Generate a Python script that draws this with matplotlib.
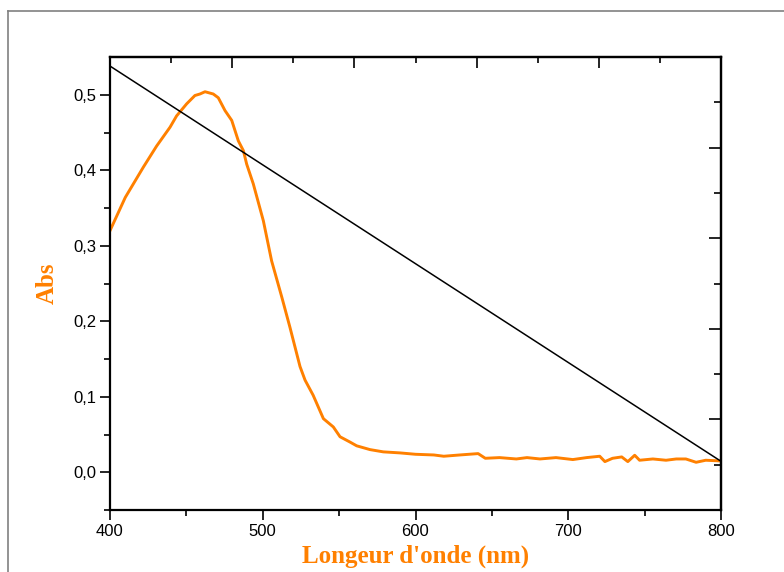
import matplotlib
matplotlib.use("Agg")
import matplotlib.pyplot as plt
from matplotlib.lines import Line2D
from matplotlib.ticker import FuncFormatter, MultipleLocator, FixedLocator
import numpy as np

# spectrum (nm, Abs)
wavelength = [400, 410, 421.8, 430.5, 439.3, 443.6, 450.2, 455.6, 458.9, 462.2,
              467.6, 470.9, 475.3, 479.7, 484, 487.3, 489.5, 493.8, 500.4, 505.8,
              512.6, 517.8, 524.4, 527.7, 533, 539.7, 546.2, 550.6, 557.1, 561.5,
              570.2, 578.9, 590, 600, 612, 618.5, 629, 641, 645.7, 655,
              666, 673, 681.5, 692, 703, 712, 720.6, 724, 729, 735,
              739, 743.5, 746.7, 755.4, 764, 770.7, 777, 783.7, 790, 800]
absorbance = [0.320, 0.364, 0.404, 0.432, 0.457, 0.472, 0.488, 0.499, 0.501, 0.504,
              0.501, 0.496, 0.479, 0.466, 0.439, 0.426, 0.408, 0.382, 0.333, 0.280,
              0.231, 0.192, 0.140, 0.122, 0.102, 0.071, 0.060, 0.047, 0.040, 0.035,
              0.030, 0.027, 0.0256, 0.0238, 0.0229, 0.0212, 0.0229, 0.0247, 0.0185, 0.0194,
              0.0176, 0.0194, 0.0176, 0.0194, 0.0168, 0.0194, 0.0212, 0.0141, 0.0185, 0.0203,
              0.0141, 0.0225, 0.0159, 0.0176, 0.0159, 0.0176, 0.0176, 0.0132, 0.0159, 0.0150]

# straight reference line
line_x = [400, 800]
line_y = [0.538, 0.0145]

orange = "#FF8000"

fig = plt.figure(figsize=(7.84, 5.72), dpi=100)
ax = fig.add_axes([110 / 784, 62 / 572, 611 / 784, 453 / 572])

ax.plot(wavelength, absorbance, color=orange, lw=2.1, solid_joinstyle="round")
ax.plot(line_x, line_y, color="black", lw=1.1)

ax.set_xlim(400, 800)
ax.set_ylim(-0.05, 0.55)

ax.xaxis.set_major_locator(MultipleLocator(100))
ax.xaxis.set_minor_locator(MultipleLocator(50))
ax.yaxis.set_major_locator(FixedLocator([0.0, 0.1, 0.2, 0.3, 0.4, 0.5]))
ax.yaxis.set_minor_locator(FixedLocator([-0.05, 0.05, 0.15, 0.25, 0.35, 0.45]))
ax.yaxis.set_major_formatter(FuncFormatter(lambda v, p: ("%.1f" % v).replace(".", ",")))

tick_font = "Liberation Sans"
ax.tick_params(which="both", direction="out", width=1.2, labelsize=12,
               top=False, right=False)
ax.tick_params(which="major", length=7, pad=3)
ax.tick_params(which="minor", length=4)
for lab in ax.get_xticklabels() + ax.get_yticklabels():
    lab.set_fontfamily(tick_font)

for sp in ax.spines.values():
    sp.set_linewidth(1.6)

# top and right axes have their own tick spacing
top = ax.secondary_xaxis("top")
top.xaxis.set_major_locator(FixedLocator([400, 480, 560, 640, 720, 800]))
top.xaxis.set_minor_locator(FixedLocator([440, 520, 600, 680, 760]))
top.tick_params(which="both", direction="in", width=1.2, labeltop=False)
top.tick_params(which="major", length=8)
top.tick_params(which="minor", length=4)
top.spines["top"].set_linewidth(1.6)

right = ax.secondary_yaxis("right")
right.yaxis.set_major_locator(FixedLocator([-0.05, 0.07, 0.19, 0.31, 0.43, 0.55]))
right.yaxis.set_minor_locator(FixedLocator([0.01, 0.13, 0.25, 0.37, 0.49]))
right.tick_params(which="both", direction="in", width=1.2, labelright=False)
right.tick_params(which="major", length=9)
right.tick_params(which="minor", length=5)
right.spines["right"].set_linewidth(1.6)

label_font = dict(family="Liberation Serif", weight="bold", color=orange, size=18)
ax.set_xlabel("Longeur d'onde (nm)", labelpad=4, **label_font)
ax.set_ylabel("Abs", labelpad=10, **label_font)

# frame around the picture (only top and left visible)
fig.add_artist(Line2D([8 / 784, 1.0], [1 - 11 / 572, 1 - 11 / 572],
                      transform=fig.transFigure, color="#808080", lw=1.2))
fig.add_artist(Line2D([8 / 784, 8 / 784], [0, 1 - 11 / 572],
                      transform=fig.transFigure, color="#808080", lw=1.2))

fig.savefig("out.png", dpi=100)
